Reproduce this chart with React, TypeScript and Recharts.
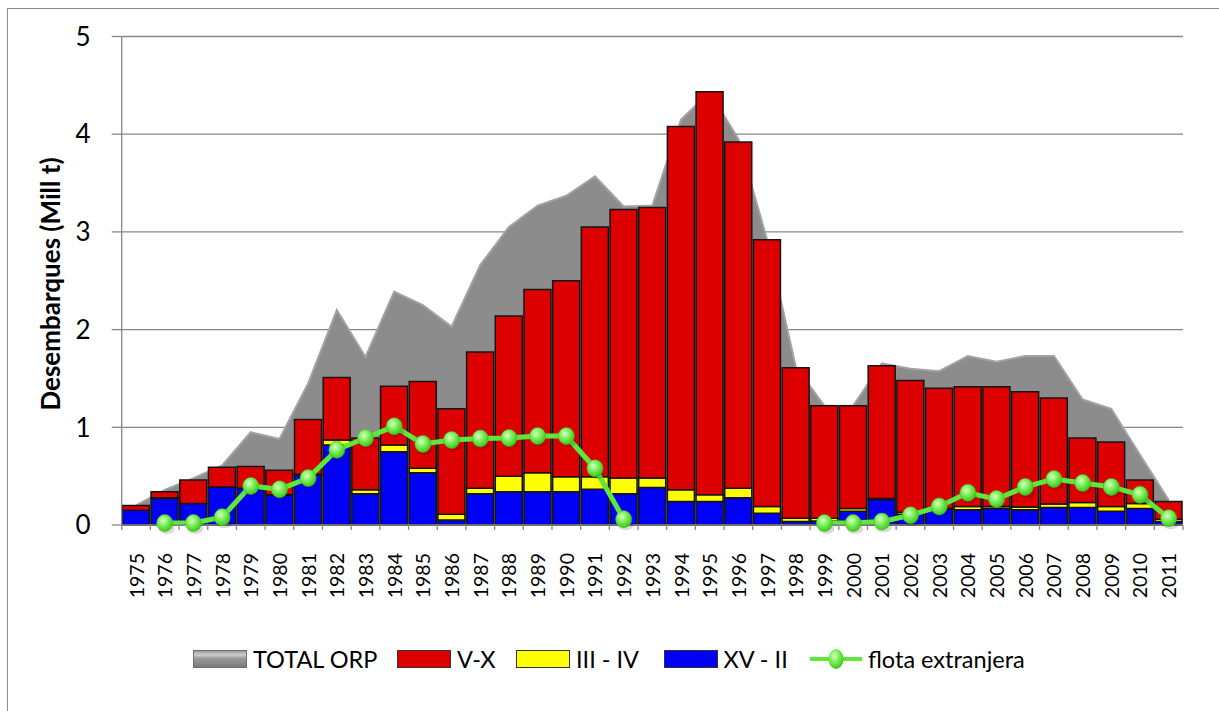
import React from 'react';
import { ComposedChart, Area, Bar, Line, XAxis, YAxis, CartesianGrid } from 'recharts';

const years = [
  '1975', '1976', '1977', '1978', '1979', '1980', '1981', '1982', '1983', '1984',
  '1985', '1986', '1987', '1988', '1989', '1990', '1991', '1992', '1993', '1994',
  '1995', '1996', '1997', '1998', '1999', '2000', '2001', '2002', '2003', '2004',
  '2005', '2006', '2007', '2008', '2009', '2010', '2011',
];

// TOTAL ORP (area)
const totalORP = [
  0.2, 0.36, 0.48, 0.61, 0.95, 0.88, 1.45, 2.2, 1.72, 2.39,
  2.25, 2.03, 2.66, 3.05, 3.27, 3.37, 3.57, 3.26, 3.27, 4.15,
  4.43, 3.95, 2.92, 1.62, 1.22, 1.22, 1.655, 1.6, 1.575, 1.73,
  1.67, 1.73, 1.73, 1.285, 1.19, 0.72, 0.255,
];

// V-X (red, top of stack)
const vx = [
  0.05, 0.06, 0.24, 0.2, 0.225, 0.25, 0.56, 0.64, 0.53, 0.6,
  0.89, 1.08, 1.395, 1.64, 1.875, 2.005, 2.555, 2.75, 2.77, 3.72,
  4.125, 3.545, 2.73, 1.54, 1.15, 1.05, 1.36, 1.35, 1.23, 1.225,
  1.225, 1.18, 1.085, 0.66, 0.66, 0.24, 0.18,
];

// III - IV (yellow, middle of stack)
const iiiIv = [
  0, 0.01, 0, 0, 0, 0, 0.01, 0.05, 0.04, 0.07,
  0.045, 0.06, 0.055, 0.16, 0.195, 0.155, 0.13, 0.16, 0.095, 0.12,
  0.07, 0.095, 0.07, 0.035, 0.03, 0.03, 0.01, 0.02, 0.01, 0.035,
  0.02, 0.03, 0.035, 0.05, 0.05, 0.05, 0.025,
];

// XV - II (blue, bottom of stack)
const xvIi = [
  0.15, 0.27, 0.22, 0.39, 0.375, 0.31, 0.51, 0.82, 0.32, 0.75,
  0.535, 0.05, 0.32, 0.34, 0.34, 0.34, 0.365, 0.32, 0.385, 0.24,
  0.24, 0.28, 0.12, 0.035, 0.04, 0.14, 0.26, 0.11, 0.16, 0.155,
  0.17, 0.155, 0.18, 0.18, 0.14, 0.17, 0.035,
];

// flota extranjera (line)
const flota: (number | null)[] = [
  null, 0.02, 0.02, 0.08, 0.4, 0.365, 0.48, 0.77, 0.89, 1.01,
  0.83, 0.87, 0.885, 0.89, 0.91, 0.91, 0.58, 0.06, null, null,
  null, null, null, null, 0.02, 0.02, 0.035, 0.1, 0.19, 0.33,
  0.265, 0.39, 0.47, 0.43, 0.39, 0.31, 0.07,
];

const yTicks = [0, 1, 2, 3, 4, 5];
const yAxisTitle = 'Desembarques (Mill t)';

const legendItems = [
  { label: 'TOTAL ORP', kind: 'area', color: '#8c8c8c' },
  { label: 'V-X', kind: 'bar', color: '#dd0000' },
  { label: 'III - IV', kind: 'bar', color: '#ffff00' },
  { label: 'XV - II', kind: 'bar', color: '#0000f5' },
  { label: 'flota extranjera', kind: 'line', color: '#5ee83c' },
];
// left edge of each legend entry (layout only)
const legendLefts = [193, 397, 516, 663.5, 810];

const data = years.map((year, i) => ({
  year,
  total: totalORP[i],
  vx: vx[i],
  iiiIv: iiiIv[i],
  xvIi: xvIi[i],
  flota: flota[i],
}));

const FONT = "Lato, 'Liberation Sans', Arial, sans-serif";
const AXIS_COLOR = '#878787';

const XTick = (props: any) => {
  const { x, y, payload, index } = props;
  const half = payload && typeof payload.offset === 'number' && payload.offset > 0 ? payload.offset : 14.34;
  const axisY = y - 28;
  const tx = x + 7.5;
  return (
    <g>
      <line x1={x - half} x2={x - half} y1={axisY} y2={axisY + 5} stroke={AXIS_COLOR} strokeWidth={1.3} />
      {index === years.length - 1 ? (
        <line x1={x + half} x2={x + half} y1={axisY} y2={axisY + 5} stroke={AXIS_COLOR} strokeWidth={1.3} />
      ) : null}
      <text
        x={tx}
        y={y}
        transform={`rotate(-90 ${tx} ${y})`}
        textAnchor="end"
        fontSize={19.5}
        fontFamily={FONT}
        fill="#000"
      >
        {payload.value}
      </text>
    </g>
  );
};

const FlotaDot = (props: any) => {
  const { cx, cy, index, value } = props;
  if (value == null || typeof cy !== 'number' || typeof cx !== 'number' || isNaN(cy)) {
    return <g key={`d-${index}`} />;
  }
  return (
    <g key={`d-${index}`}>
      <ellipse cx={cx + 2} cy={cy + 6} rx={8} ry={5} fill="rgba(0,0,0,0.15)" />
      <ellipse cx={cx} cy={cy} rx={8} ry={8.5} fill="url(#greenBall)" stroke="#3fbf1f" strokeWidth={0.6} />
    </g>
  );
};

const Swatch = ({ item }: { item: any }) => {
  if (item.kind === 'line') {
    return (
      <svg width={52} height={22} style={{ display: 'block' }}>
        <defs>
          <radialGradient id="greenBallLegend" cx="40%" cy="35%" r="65%">
            <stop offset="0%" stopColor="#d9ffc8" />
            <stop offset="45%" stopColor="#80f05c" />
            <stop offset="100%" stopColor="#3cc81e" />
          </radialGradient>
        </defs>
        <line x1={0} x2={52} y1={11} y2={11} stroke={item.color} strokeWidth={4} />
        <ellipse cx={26} cy={11} rx={7.5} ry={10} fill="url(#greenBallLegend)" />
      </svg>
    );
  }
  if (item.kind === 'area') {
    return (
      <div
        style={{
          width: 54,
          height: 18,
          boxSizing: 'border-box',
          border: '1px solid #6e6e6e',
          background: 'linear-gradient(#9a9a9a, #cfcfcf 25%, #9a9a9a 45%, #8a8a8a 75%, #7a7a7a)',
        }}
      />
    );
  }
  return (
    <div
      style={{
        width: 54,
        height: 18,
        boxSizing: 'border-box',
        border: '1.5px solid #333',
        background: item.color,
      }}
    />
  );
};

export default function App() {
  return (
    <div
      style={{
        position: 'absolute',
        left: 0,
        top: 0,
        width: 1219,
        height: 711,
        overflow: 'hidden',
        background: '#fff',
        fontFamily: FONT,
      }}
    >
      <div
        style={{
          position: 'absolute',
          left: 7,
          top: 8,
          width: 1400,
          height: 900,
          border: '1.5px solid #8a8a8a',
        }}
      />
      <div style={{ position: 'absolute', left: 0, top: 0 }}>
        <ComposedChart
          width={1219}
          height={711}
          data={data}
          margin={{ top: 36.5, right: 36, left: 0, bottom: 100 }}
          barCategoryGap={0.7}
        >
          <defs>
            <radialGradient id="greenBall" cx="40%" cy="35%" r="65%">
              <stop offset="0%" stopColor="#d9ffc8" />
              <stop offset="45%" stopColor="#80f05c" />
              <stop offset="100%" stopColor="#3cc81e" />
            </radialGradient>
          </defs>
          <CartesianGrid vertical={false} stroke={AXIS_COLOR} strokeWidth={1.3} />
          <XAxis
            dataKey="year"
            interval={0}
            height={86}
            tickLine={false}
            tickSize={6}
            tickMargin={22}
            axisLine={{ stroke: AXIS_COLOR, strokeWidth: 1.3 }}
            tick={<XTick />}
          />
          <YAxis
            width={121.7}
            domain={[0, 5]}
            ticks={yTicks}
            interval={0}
            tickSize={10}
            tickMargin={21}
            tickLine={{ stroke: AXIS_COLOR, strokeWidth: 1.3 }}
            axisLine={{ stroke: AXIS_COLOR, strokeWidth: 1.3 }}
            tick={{ fontSize: 26, fill: '#000', fontFamily: FONT }}
          />
          <Area
            type="linear"
            dataKey="total"
            name="TOTAL ORP"
            fill="#8c8c8c"
            fillOpacity={1}
            stroke="#a3a3a3"
            strokeWidth={2}
            dot={false}
            activeDot={false}
            isAnimationActive={false}
          />
          <Bar dataKey="xvIi" name="XV - II" stackId="s" fill="#0000f5" stroke="#151515" strokeWidth={1.5} isAnimationActive={false} />
          <Bar dataKey="iiiIv" name="III - IV" stackId="s" fill="#ffff00" stroke="#151515" strokeWidth={1.5} isAnimationActive={false} />
          <Bar dataKey="vx" name="V-X" stackId="s" fill="#dd0000" stroke="#151515" strokeWidth={1.5} isAnimationActive={false} />
          <Line
            type="linear"
            dataKey="flota"
            name="flota extranjera"
            stroke="#5ee83c"
            strokeWidth={5}
            dot={<FlotaDot />}
            activeDot={false}
            connectNulls={false}
            isAnimationActive={false}
          />
        </ComposedChart>
      </div>
      <svg
        width={1219}
        height={711}
        style={{ position: 'absolute', left: 0, top: 0, pointerEvents: 'none' }}
      >
        <text
          x={60}
          y={284}
          transform="rotate(-90 60 284)"
          textAnchor="middle"
          fontSize={26}
          fontWeight="bold"
          fontFamily={FONT}
          fill="#000"
        >
          {yAxisTitle}
        </text>
      </svg>
      {legendItems.map((item, i) => (
        <div
          key={item.label}
          style={{
            position: 'absolute',
            left: legendLefts[i],
            top: 648,
            height: 22,
            display: 'flex',
            alignItems: 'center',
          }}
        >
          <Swatch item={item} />
          <span style={{ fontSize: 23.5, lineHeight: '22px', marginLeft: 6, color: '#000', whiteSpace: 'pre' }}>
            {item.label}
          </span>
        </div>
      ))}
    </div>
  );
}
